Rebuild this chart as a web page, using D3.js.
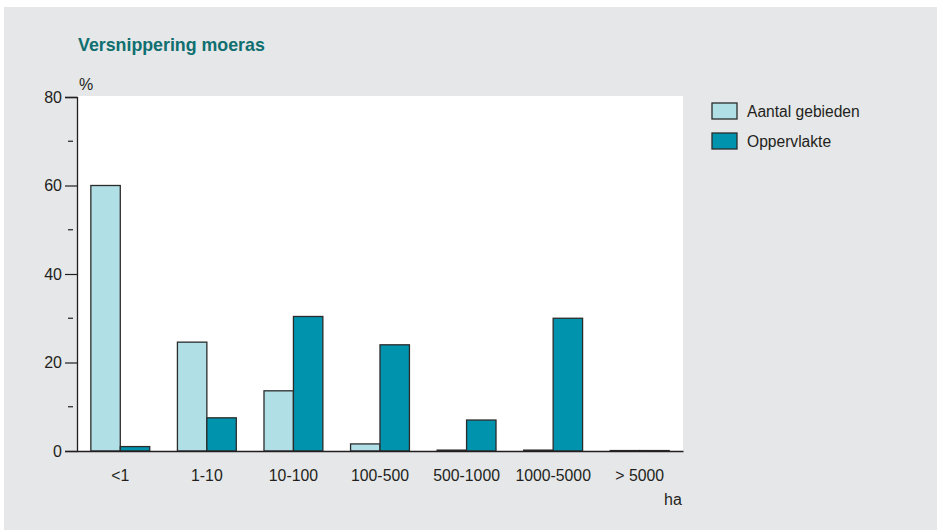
<!DOCTYPE html>
<html lang="nl">
<head>
<meta charset="UTF-8">
<title>Versnippering moeras</title>
<script src="https://cdn.jsdelivr.net/npm/d3@7"></script>
<style>
    body { margin: 0; background: #ffffff; font-family: "Liberation Sans", Arial, sans-serif; }
    svg text { fill: #231f20; }
</style>
</head>
<body>
<div id="chart"></div>
<script>
    var WIDTH = 937, HEIGHT = 530;
    var PLOT = {left: 77, right: 683, top: 96, bottom: 451};

    var CATEGORIES = ["<1", "1-10", "10-100", "100-500", "500-1000", "1000-5000", "> 5000"];
    var SERIES = ["Aantal gebieden", "Oppervlakte"];
    var AANTAL = [60, 24.6, 13.6, 1.6, 0.2, 0.2, 0.1];
    var OPPERVLAKTE = [1.0, 7.5, 30.4, 24.0, 7.0, 30.0, 0.1];
    var Y_TICKS = [0, 20, 40, 60, 80];
    var Y_MINOR = [10, 30, 50, 70];

    var COLORS = ["#b0e0e6", "#0093ae"];

    var svg = d3.select("#chart").append("svg")
        .attr("width", WIDTH)
        .attr("height", HEIGHT);

    // grey panel
    svg.append("rect")
        .attr("x", 4).attr("y", 7)
        .attr("width", WIDTH - 4).attr("height", HEIGHT - 7)
        .attr("fill", "#e6e7e8");

    svg.append("rect")
        .attr("x", PLOT.left).attr("y", PLOT.top)
        .attr("width", PLOT.right - PLOT.left).attr("height", PLOT.bottom - PLOT.top)
        .attr("fill", "#ffffff");

    svg.append("text")
        .attr("x", 78).attr("y", 51)
        .style("font-size", "17.8px")
        .style("font-weight", "bold")
        .style("fill", "#0f6f70")
        .text("Versnippering moeras");

    var x = d3.scaleBand()
        .domain(CATEGORIES)
        .range([PLOT.left, PLOT.right])
        .paddingInner(0.32)
        .paddingOuter(0.16);

    var xs = d3.scaleBand()
        .domain(SERIES)
        .range([0, x.bandwidth()]);

    var y = d3.scaleLinear()
        .domain([0, 80])
        .range([PLOT.bottom, PLOT.top + 1]);

    var rows = CATEGORIES.map(function(c, i) {
        return {cat: c, values: [AANTAL[i], OPPERVLAKTE[i]]};
    });

    var groups = svg.append("g").selectAll("g")
        .data(rows)
        .enter().append("g")
        .attr("transform", function(d) { return "translate(" + x(d.cat) + ",0)"; });

    groups.selectAll("rect")
        .data(function(d) {
            return d.values.map(function(v, j) { return {series: SERIES[j], value: v, j: j}; });
        })
        .enter().append("rect")
        .attr("x", function(d) { return xs(d.series); })
        .attr("width", xs.bandwidth())
        .attr("y", function(d) { return y(d.value); })
        .attr("height", function(d) { return y(0) - y(d.value); })
        .attr("fill", function(d) { return COLORS[d.j]; })
        .attr("stroke", "#2b2b2b")
        .attr("stroke-width", 1.3);

    // y axis
    var yAxis = svg.append("g")
        .attr("transform", "translate(" + PLOT.left + ",0)")
        .call(d3.axisLeft(y).tickValues(Y_TICKS).tickSize(12).tickPadding(3));
    yAxis.select(".domain").attr("stroke", "#231f20").attr("stroke-width", 1.3);
    yAxis.selectAll(".tick line").attr("stroke", "#231f20").attr("stroke-width", 1.2);
    yAxis.selectAll(".tick text")
        .style("font-size", "16px")
        .style("font-family", "'Liberation Sans', Arial, sans-serif")
        .attr("fill", "#231f20");

    svg.append("g").selectAll("line")
        .data(Y_MINOR)
        .enter().append("line")
        .attr("x1", PLOT.left - 9).attr("x2", PLOT.left - 4)
        .attr("y1", function(d) { return y(d); })
        .attr("y2", function(d) { return y(d); })
        .attr("stroke", "#231f20")
        .attr("stroke-width", 1.2);

    // x axis
    var xAxis = svg.append("g")
        .attr("transform", "translate(0," + PLOT.bottom + ")")
        .call(d3.axisBottom(x).tickSize(0).tickPadding(19).tickSizeOuter(0));
    xAxis.select(".domain").attr("stroke", "#231f20").attr("stroke-width", 1.3);
    xAxis.selectAll(".tick text")
        .style("font-size", "15.8px")
        .style("font-family", "'Liberation Sans', Arial, sans-serif")
        .attr("fill", "#231f20");

    svg.append("text")
        .attr("x", 79).attr("y", 90)
        .style("font-size", "16px")
        .text("%");

    svg.append("text")
        .attr("x", 664).attr("y", 505)
        .style("font-size", "16px")
        .text("ha");

    // legend
    var legend = svg.append("g").attr("transform", "translate(712,103)");
    var items = legend.selectAll("g")
        .data(SERIES)
        .enter().append("g")
        .attr("transform", function(d, i) { return "translate(0," + i * 30 + ")"; });
    items.append("rect")
        .attr("width", 25).attr("height", 16)
        .attr("fill", function(d, i) { return COLORS[i]; })
        .attr("stroke", "#2b2b2b")
        .attr("stroke-width", 1.3);
    items.append("text")
        .attr("x", 35).attr("y", 14)
        .style("font-size", "15.6px")
        .text(function(d) { return d; });
</script>
</body>
</html>
